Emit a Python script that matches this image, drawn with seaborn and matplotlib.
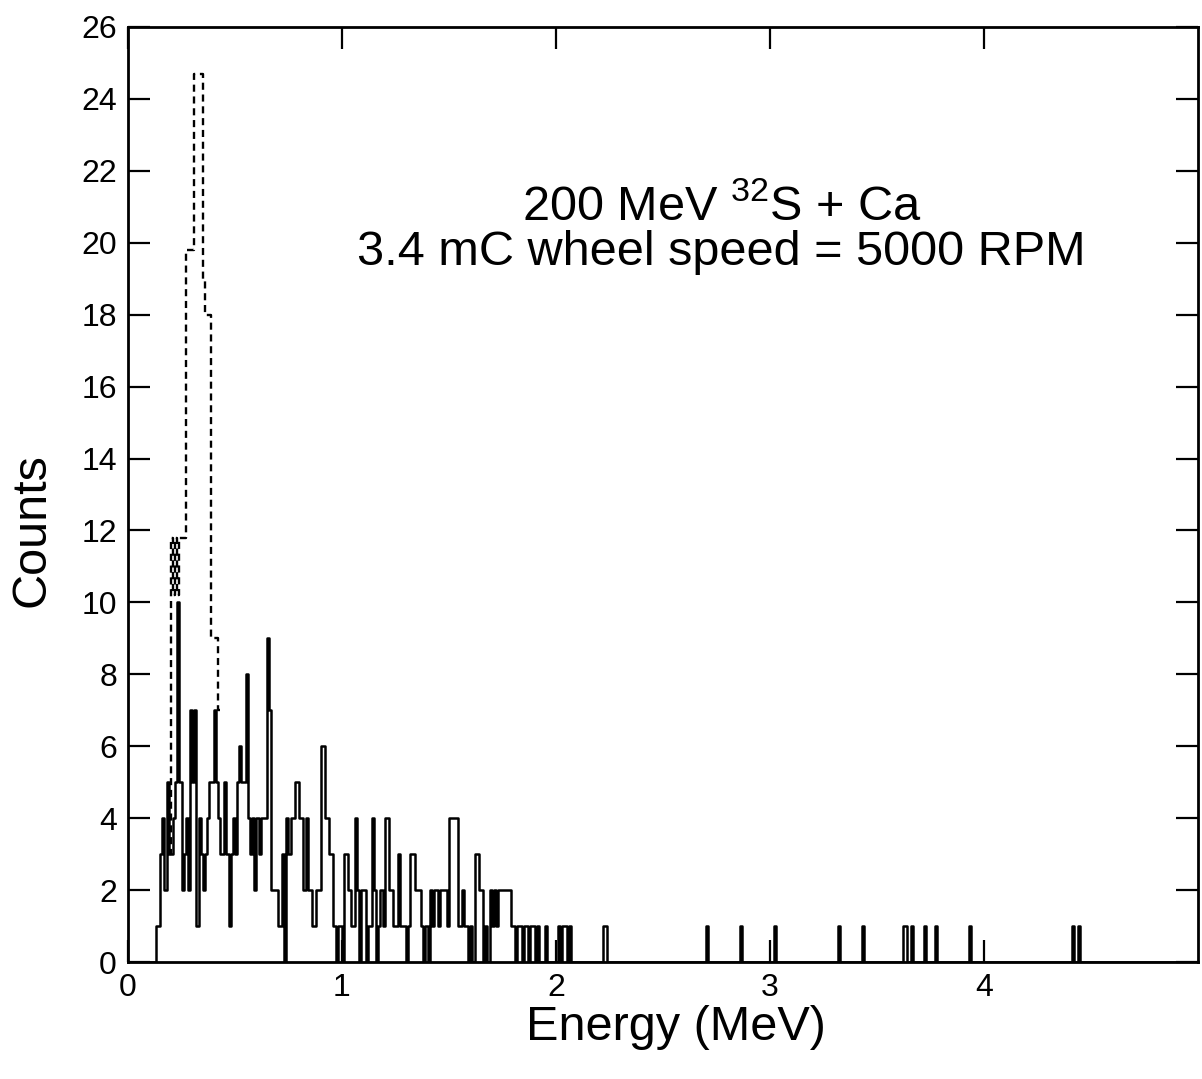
import numpy as np
import pandas as pd
import matplotlib.pyplot as plt
import seaborn as sns

# solid spectrum, counts per 0.01 MeV bin starting at 0.13 MeV
low_start = 0.13
counts_low = [
    1, 1, 3, 4, 2, 5, 3, 3, 4, 5,      # 0.13 - 0.22
    10, 5, 2, 3, 4, 2, 7, 5, 7, 1,     # 0.23 - 0.32
    4, 3, 2, 3, 4, 5, 5, 7, 5, 4,      # 0.33 - 0.42
    3, 3, 5, 3, 1, 3, 4, 3, 5, 6,      # 0.43 - 0.52
    5, 5, 8, 4, 3, 4, 2, 4, 3, 4,      # 0.53 - 0.62
    4, 4, 9, 7, 2, 2, 2, 1, 1, 3,      # 0.63 - 0.72
    0, 4, 3, 4, 4, 5, 5, 4, 4, 2,      # 0.73 - 0.82
    4, 2, 2, 1, 1, 2, 2, 6, 6, 4,      # 0.83 - 0.92
    4, 3, 3, 1, 0, 1, 1, 0, 3, 3,      # 0.93 - 1.02
    2, 1, 1, 4, 2, 0, 2, 2, 0, 1,      # 1.03 - 1.12
    1, 4, 2, 0, 1, 2, 1, 4, 4, 2,      # 1.13 - 1.22
    2, 1, 1, 3, 1, 1, 1, 0, 1, 3,      # 1.23 - 1.32
    3, 2, 2, 2, 1, 0, 1, 0, 2, 1,      # 1.33 - 1.42
    2, 2, 1, 2, 2, 2, 1, 4, 4, 4,      # 1.43 - 1.52
    4, 1, 1, 2, 1, 1, 0, 1, 0, 3,      # 1.53 - 1.62
    3, 2, 2, 0, 1, 0, 2, 1, 2, 1,      # 1.63 - 1.72
    2, 2, 2, 2, 2, 2, 1, 1, 0, 1,      # 1.73 - 1.82
    1, 0, 1, 1, 0, 1, 1, 0, 1, 0,      # 1.83 - 1.92
    0, 0, 1, 0, 0, 0, 0, 0, 1, 0,      # 1.93 - 2.02
    1, 1, 0, 1,                        # 2.03 - 2.06
]

# isolated single counts at higher energy (MeV)
single_events = [2.22, 2.23, 2.70, 2.86, 3.02, 3.32, 3.43, 3.62, 3.63,
                 3.66, 3.72, 3.77, 3.93, 4.41, 4.44]

# dashed spectrum around the low energy peak
dashed_energy = [0.19, 0.20, 0.21, 0.22, 0.23, 0.24, 0.25, 0.26, 0.27, 0.28,
                 0.29, 0.30, 0.31, 0.32, 0.33, 0.34, 0.35, 0.36, 0.37, 0.38,
                 0.39, 0.40, 0.41, 0.42]
dashed_counts = [3, 11.8, 10.2, 11.8, 10.2, 11.8, 11.8, 11.8, 19.8, 19.8,
                 19.8, 19.8, 24.7, 24.7, 24.7, 24.7, 19.0, 18.0, 18.0, 18.0,
                 9.0, 9.0, 9.0, 7.0]

xticks = [0, 1, 2, 3, 4]
yticks = list(range(0, 27, 2))

low_energy = np.round(low_start + 0.01 * np.arange(len(counts_low)), 2)
solid = pd.DataFrame({
    "energy": np.concatenate([low_energy, single_events]) + 0.005,
    "counts": counts_low + [1] * len(single_events),
})
dashed = pd.DataFrame({"energy": np.array(dashed_energy) + 0.005,
                       "counts": dashed_counts})

sns.set_style("ticks")
plt.rcParams["font.family"] = ["Liberation Sans", "DejaVu Sans"]
plt.rcParams["text.color"] = "black"
plt.rcParams["axes.labelcolor"] = "black"
plt.rcParams["xtick.color"] = "black"
plt.rcParams["ytick.color"] = "black"

fig = plt.figure(figsize=(12.02, 10.79), dpi=100)
ax = fig.add_axes([0.1065, 0.1084, 0.89, 0.8666])

sns.histplot(data=dashed, x="energy", weights="counts", binwidth=0.01,
             binrange=(0.19, 0.43), element="step", fill=False, color="black",
             linewidth=1.7, linestyle=(0, (3, 2)), ax=ax)
sns.histplot(data=solid, x="energy", weights="counts", binwidth=0.01,
             binrange=(0, 5), element="step", fill=False, color="black",
             linewidth=1.8, ax=ax)

ax.set_xlim(0, 5)
ax.set_ylim(0, 26)
ax.set_xticks(xticks)
ax.set_xticklabels([str(t) for t in xticks])
ax.set_yticks(yticks)
ax.tick_params(direction="in", length=16, width=1.6, labelsize=23, pad=8,
               top=True, right=True, color="black", labelcolor="black")
for s in ax.spines.values():
    s.set_visible(True)
    s.set_linewidth(2.0)
    s.set_color("black")

ax.set_xlabel("Energy (MeV)", fontsize=35)
ax.set_ylabel("Counts", fontsize=35)
ax.xaxis.set_label_coords(0.512, -0.046)
ax.yaxis.set_label_coords(-0.069, 0.462)

ax.text(0.555, 0.783,
        "200 MeV $\\mathregular{^{32}}$S + Ca\n3.4 mC wheel speed = 5000 RPM",
        transform=ax.transAxes, ha="center", va="center", fontsize=35,
        linespacing=1.0)

fig.savefig("out.png", dpi=100, facecolor="white")
